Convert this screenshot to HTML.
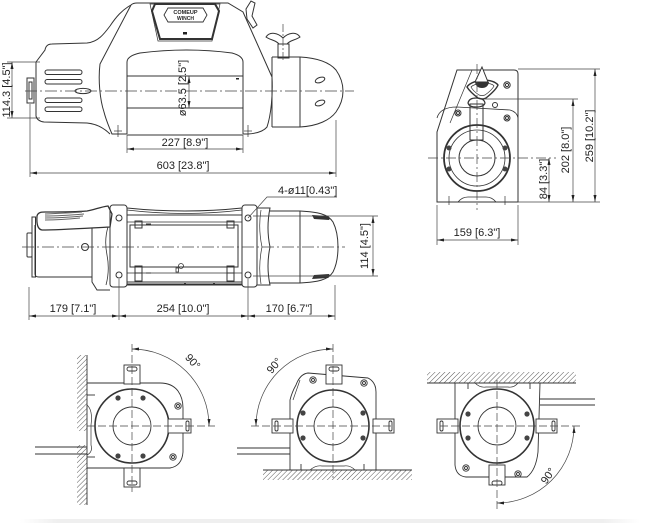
<!DOCTYPE html>
<html><head><meta charset="utf-8">
<style>
html,body{margin:0;padding:0;background:#fff;}
svg{display:block;}
text{font-family:"Liberation Sans",Arial,sans-serif;font-size:11px;fill:#222;}
</style></head><body>
<svg width="660" height="523" viewBox="0 0 660 523" xmlns="http://www.w3.org/2000/svg">
<defs>
<marker id="a" viewBox="0 0 7 3" refX="7" refY="1.5" markerWidth="7" markerHeight="3" markerUnits="userSpaceOnUse" orient="auto-start-reverse"><path d="M0,0 L7,1.5 L0,3 z" fill="#222"/></marker>
<pattern id="h" width="3.5" height="3.5" patternUnits="userSpaceOnUse" patternTransform="rotate(45)"><line x1="0" y1="0" x2="0" y2="3.5" stroke="#444" stroke-width="0.9"/></pattern>
<linearGradient id="g" x1="0" x2="1" y1="0" y2="0"><stop offset="0" stop-color="#fff"/><stop offset="0.06" stop-color="#efefef"/><stop offset="0.94" stop-color="#efefef"/><stop offset="1" stop-color="#fff"/></linearGradient>
</defs>

<!-- ================= TOP VIEW ================= -->
<g fill="none" stroke="#333" stroke-width="1">
  <rect x="27" y="78" width="7" height="25"/>
  <rect x="29" y="82" width="3" height="17"/>
  <path d="M36,62 L45,50 Q46,44 52,44 L87,43 C98,42 104,34 110,26 C116,17 122,10 131,5"/>
  <path d="M36,62 L36,116 Q37,121 44,122 L87,123 C97,124 104,128 110,134"/>
  <path d="M131,5 Q133,3 137,3 L228,3 L243,12 L272,77"/>
  <path d="M131,5 L100,64 C98,80 100,100 104,112 C106,120 109,127 112,134 L127,134"/>
  <path d="M272,77 C273,95 271,115 267,127 Q262,133 248,134 L243,134"/>
  <path d="M150,4 L220,4 L212,41 L158,41 Z" stroke-width="0.7"/>
  <path d="M155,4 L215,4 L219,11 L212,39 L160,39 L152,11 Z" stroke-width="2"/>
  <path d="M168,8 L203,8 L207,15 L203,22 L168,22 L164,15 Z" stroke-width="0.9"/>
  <path d="M127,134 L127,62 Q127,56 140,53 Q187,47 232,53 Q243,56 243,62 L243,134"/>
  <line x1="127" y1="76" x2="243" y2="76"/>
  <line x1="127" y1="108" x2="243" y2="108"/>
  <line x1="127" y1="135" x2="243" y2="135"/>
  <path d="M272,57 L300,57 C318,58 330,63 336,70 Q343,80 343,91 Q343,102 336,112 C330,120 318,126 300,127 L272,127"/>
  <line x1="300" y1="57" x2="300" y2="127"/>
  <line x1="272" y1="57" x2="272" y2="127"/>
  <ellipse cx="320" cy="80" rx="5" ry="2.5" transform="rotate(-20 320 80)"/>
  <ellipse cx="320" cy="103" rx="5" ry="2.5" transform="rotate(-20 320 103)"/>
  <rect x="45" y="70" width="37" height="4.5" rx="2.2"/>
  <rect x="45" y="79.5" width="37" height="4.5" rx="2.2"/>
  <rect x="45" y="98" width="37" height="4.5" rx="2.2"/>
  <rect x="45" y="107" width="37" height="4.5" rx="2.2"/>
  <ellipse cx="83" cy="91" rx="8" ry="2.6"/>
  <path d="M266,37 C270,31 278,33 283,38 C288,33 296,31 300,37 C296,40 290,40 287,44 L279,44 C276,40 270,40 266,37 Z"/>
  <rect x="278" y="44" width="11" height="14"/>
  <path d="M246,9 L251,1 L255,3 L252,16 L257,25 L253,28 L247,19 Z"/>
  <line x1="118" y1="125" x2="118" y2="137" stroke-width="0.7"/>
  <line x1="114" y1="131" x2="122" y2="131" stroke-width="0.7"/>
  <line x1="248" y1="125" x2="248" y2="137" stroke-width="0.7"/>
  <line x1="244" y1="131" x2="252" y2="131" stroke-width="0.7"/>
</g>
<rect x="183" y="32" width="4" height="2.5" fill="#222"/>
<rect x="236" y="78" width="3" height="1.5" fill="#222"/>
<text x="185.5" y="14" text-anchor="middle" style="font-size:5.5px;font-weight:bold">COMEUP</text>
<text x="185.5" y="20" text-anchor="middle" style="font-size:5px;font-weight:bold">WINCH</text>

<g fill="none" stroke="#444" stroke-width="0.7">
  <line x1="25" y1="91" x2="354" y2="91" stroke-dasharray="12 3 2 3"/>
  <line x1="283" y1="24" x2="283" y2="62" stroke-dasharray="8 2 2 2"/>
  <line x1="7" y1="62" x2="40" y2="62"/>
  <line x1="7" y1="118" x2="40" y2="118"/>
  <line x1="12" y1="62" x2="12" y2="118" marker-start="url(#a)" marker-end="url(#a)"/>
  <line x1="189" y1="76" x2="189" y2="108" marker-start="url(#a)" marker-end="url(#a)"/>
  <line x1="127" y1="135" x2="127" y2="153"/>
  <line x1="243" y1="135" x2="243" y2="153"/>
  <line x1="127" y1="149" x2="243" y2="149" marker-start="url(#a)" marker-end="url(#a)"/>
  <line x1="30" y1="104" x2="30" y2="177"/>
  <line x1="336" y1="120" x2="336" y2="177"/>
  <line x1="30" y1="173" x2="336" y2="173" marker-start="url(#a)" marker-end="url(#a)"/>
</g>
<text transform="translate(10,90) rotate(-90)" text-anchor="middle">114.3 [4.5"]</text>
<text transform="translate(186,88) rotate(-90)" text-anchor="middle">ø63.5 [2.5"]</text>
<text x="185" y="146" text-anchor="middle">227 [8.9"]</text>
<text x="183" y="169" text-anchor="middle">603 [23.8"]</text>

<!-- ================= SIDE VIEW ================= -->
<g fill="none" stroke="#333" stroke-width="1">
  <path d="M437,202 L437,132 L457,70 L514,70 Q518,70 518,74 L518,202 Z"/>
  <path d="M472,70 L450,123" stroke-width="0.7"/>
  <path d="M437,118 Q440,107 457,107 L510,110 Q517,112 518,118" stroke-width="0.8"/>
  <path d="M467,87 Q470,82 482,80 Q494,80 498,85 Q496,90 486,98 Q482,100 478,98 Q470,92 467,87 Z" stroke-width="1.4"/>
  <path d="M471,87 Q474,84 482,83 Q492,83 494,86 Q492,90 485,95 Q482,96 479,95 Q473,91 471,87 Z" stroke-width="0.7"/>
  <rect x="470" y="104" width="13" height="36"/>
  <path d="M468,103 Q469,98 476,98 Q484,98 485,103 Q484,107 476,107 Q469,107 468,103 Z" stroke-width="1.2"/>
  <circle cx="507" cy="85" r="3.2"/><circle cx="507" cy="85" r="1.6"/>
  <circle cx="458" cy="113" r="3"/><circle cx="458" cy="113" r="1.5"/>
  <circle cx="507" cy="118" r="3"/><circle cx="507" cy="118" r="1.5"/>
  <circle cx="495" cy="105" r="2.5"/>
  <circle cx="477" cy="158" r="33" stroke-width="1.8"/>
  <circle cx="477" cy="158" r="28" stroke-width="0.8"/>
  <circle cx="477" cy="158" r="18"/>
  <path d="M458,202 Q462,197 468,197 L486,197 Q492,197 496,202" stroke-width="0.8"/>
  <line x1="449" y1="196" x2="449" y2="205" stroke-width="0.7"/>
  <line x1="505" y1="196" x2="505" y2="205" stroke-width="0.7"/>
</g>
<path d="M482,67 L488,82 L475,82 Z" fill="#fff" stroke="#333" stroke-width="1"/>
<path d="M475,82 L489,82 Q488,88 482,88 Q476,88 475,82 Z" fill="#333"/>
<g fill="#444"><circle cx="449" cy="148" r="2.5"/><circle cx="449" cy="169" r="2.5"/><circle cx="505" cy="148" r="2.5"/><circle cx="505" cy="169" r="2.5"/></g>
<g fill="none" stroke="#444" stroke-width="0.7">
  <line x1="428" y1="158" x2="556" y2="158" stroke-dasharray="10 3 2 3"/>
  <line x1="477" y1="64" x2="477" y2="210" stroke-dasharray="10 3 2 3"/>
  <line x1="518" y1="69" x2="600" y2="69"/>
  <line x1="480" y1="99" x2="578" y2="99"/>
  <line x1="518" y1="202" x2="600" y2="202"/>
  <line x1="549" y1="158" x2="549" y2="202" marker-start="url(#a)" marker-end="url(#a)"/>
  <line x1="573" y1="99" x2="573" y2="202" marker-start="url(#a)" marker-end="url(#a)"/>
  <line x1="595" y1="69" x2="595" y2="202" marker-start="url(#a)" marker-end="url(#a)"/>
  <line x1="437" y1="205" x2="437" y2="245"/>
  <line x1="518" y1="205" x2="518" y2="245"/>
  <line x1="437" y1="240" x2="518" y2="240" marker-start="url(#a)" marker-end="url(#a)"/>
</g>
<text transform="translate(547,179) rotate(-90)" text-anchor="middle">84 [3.3"]</text>
<text transform="translate(569,150) rotate(-90)" text-anchor="middle">202 [8.0"]</text>
<text transform="translate(593,136) rotate(-90)" text-anchor="middle">259 [10.2"]</text>
<text x="477" y="236" text-anchor="middle">159 [6.3"]</text>

<!-- ================= FRONT VIEW ================= -->
<g fill="none" stroke="#333" stroke-width="1">
  <rect x="32" y="217" width="3.5" height="60"/>
  <rect x="27" y="233" width="5" height="24" rx="1"/>
  <path d="M35,225 L35,274 Q35,277 39,277 L92,277"/>
  <path d="M92,228 L92,282 L97,290 L110,290"/>
  <path d="M108,227 Q104,240 107,255 Q110,270 106,285" stroke-width="0.8"/>
  <path d="M37,216 C38,212 42,212 45,212 C60,212 75,212 87,211 C94,210 100,207 108,206 L112,214 L110,227 C90,228 60,230 42,230 Q36,229 37,216 Z" fill="#fff" stroke-width="1.3"/>
  <path d="M45,214 C60,213 72,213 82,212 M45,216 C60,216 72,215 84,214 M45,218 C60,218 72,217 83,216 M45,220 C60,220 70,219 80,218" stroke="#666" stroke-width="1"/>
  <circle cx="85" cy="247" r="3.5"/>
  <rect x="110" y="205" width="17" height="82" rx="3"/>
  <rect x="242" y="205" width="15" height="82" rx="3"/>
  <circle cx="119" cy="218" r="3"/><circle cx="119" cy="275" r="3"/>
  <circle cx="248" cy="218" r="3"/><circle cx="248" cy="275" r="3"/>
  <path d="M127,208 Q185,214 242,208"/>
  <path d="M127,210 Q185,217 242,210" stroke-width="0.7"/>
  <line x1="127" y1="215" x2="242" y2="215"/>
  <line x1="127" y1="222" x2="242" y2="222" stroke-width="0.8"/>
  <rect x="130" y="225" width="108" height="42"/>
  <line x1="127" y1="273" x2="242" y2="273" stroke-width="0.8"/>
  <line x1="127" y1="282" x2="242" y2="282"/>
  <line x1="127" y1="284.5" x2="242" y2="284.5" stroke-width="2"/>
  <rect x="135" y="221" width="7" height="7"/><rect x="227" y="221" width="7" height="7"/>
  <rect x="135" y="266" width="7" height="15"/><rect x="227" y="266" width="7" height="15"/>
  <line x1="135" y1="273" x2="142" y2="273"/><line x1="227" y1="273" x2="234" y2="273"/>
  <circle cx="181" cy="266" r="2.5" stroke-width="0.8"/>
  <rect x="176" y="268" width="2.5" height="4" stroke-width="0.8"/>
  <path d="M257,208 L270,208 Q266,228 270,247 Q266,266 270,285 L257,285"/>
  <path d="M261,210 Q258,228 262,247 Q258,266 261,284" stroke-width="0.7"/>
  <path d="M270,211 L300,211 C318,212 328,214 333,222 Q338,232 338,247 Q338,262 333,272 C328,280 318,282 300,283 L270,283"/>
  <line x1="300" y1="211" x2="300" y2="283"/>
</g>
<path d="M312,215 L328,216 Q331,218 329,220 L314,219 Z" fill="#333"/>
<path d="M312,279 L328,278 Q331,276 329,274 L314,275 Z" fill="#333"/>
<g fill="#333"><rect x="146" y="223.5" width="5" height="1"/><rect x="146" y="272.5" width="5" height="1"/><rect x="184" y="283" width="2" height="1.5"/><rect x="213" y="283" width="2" height="1.5"/></g>
<g fill="none" stroke="#444" stroke-width="0.7">
  <line x1="22" y1="247" x2="345" y2="247" stroke-dasharray="12 3 2 3"/>
  <polyline points="248,218 267,197 337,197"/>
  <line x1="253" y1="216" x2="378" y2="216"/>
  <line x1="253" y1="276" x2="378" y2="276"/>
  <line x1="373" y1="216" x2="373" y2="276" marker-start="url(#a)" marker-end="url(#a)"/>
  <line x1="29" y1="287" x2="29" y2="320"/>
  <line x1="119" y1="279" x2="119" y2="320"/>
  <line x1="248" y1="279" x2="248" y2="320"/>
  <line x1="335" y1="285" x2="335" y2="320"/>
  <line x1="29" y1="316" x2="119" y2="316" marker-start="url(#a)" marker-end="url(#a)"/>
  <line x1="119" y1="316" x2="248" y2="316" marker-start="url(#a)" marker-end="url(#a)"/>
  <line x1="248" y1="316" x2="335" y2="316" marker-start="url(#a)" marker-end="url(#a)"/>
</g>
<text x="278" y="194">4-ø11[0.43"]</text>
<text transform="translate(368,246) rotate(-90)" text-anchor="middle">114 [4.5"]</text>
<text x="73" y="312" text-anchor="middle">179 [7.1"]</text>
<text x="183" y="312" text-anchor="middle">254 [10.0"]</text>
<text x="289" y="312" text-anchor="middle">170 [6.7"]</text>

<!-- ================= VIEW A ================= -->
<rect x="77" y="355" width="10" height="76" fill="url(#h)"/>
<rect x="77" y="445" width="10" height="60" fill="url(#h)"/>
<g fill="none" stroke="#333" stroke-width="0.9">
  <line x1="87" y1="355" x2="87" y2="505"/>
  <line x1="35" y1="447" x2="87" y2="447"/>
  <line x1="35" y1="454" x2="87" y2="454"/>
  <path d="M87,383 L160,383 Q172,383 178,391 Q183,398 183,408 L183,452 Q182,466 170,468 L87,468"/>
  <line x1="87" y1="395" x2="95" y2="395"/><line x1="87" y1="457" x2="95" y2="457"/>
  <path d="M87,405 Q93,410 91,425 L91,445 Q93,452 87,455" stroke-width="0.7"/>
  <circle cx="132" cy="426" r="37" stroke-width="1.6"/>
  <circle cx="132" cy="426" r="19"/>
  <rect x="124" y="365" width="16" height="19" fill="#fff"/><rect x="127" y="367" width="10" height="4" rx="2"/>
  <rect x="124" y="468" width="16" height="19" fill="#fff"/><rect x="127" y="481" width="10" height="4" rx="2"/>
  <rect x="168" y="419" width="23" height="14" fill="#fff"/><rect x="186" y="421" width="3" height="10" rx="1.5"/>
  <circle cx="178" cy="406" r="3.2"/><circle cx="178" cy="406" r="1.5"/>
  <circle cx="173" cy="457" r="3.2"/><circle cx="173" cy="457" r="1.5"/>
</g>
<g fill="#444"><circle cx="118" cy="398" r="2.6"/><circle cx="143" cy="398" r="2.6"/><circle cx="118" cy="456" r="2.6"/><circle cx="143" cy="456" r="2.6"/></g>
<g fill="none" stroke="#444" stroke-width="0.7">
  <line x1="132" y1="344" x2="132" y2="492" stroke-dasharray="8 3"/>
  <line x1="87" y1="426" x2="215" y2="426" stroke-dasharray="8 3"/>
  <path d="M132,349 A77,77 0 0 1 209,426" marker-start="url(#a)" marker-end="url(#a)"/>
</g>
<text transform="translate(190,364) rotate(48)" text-anchor="middle">90°</text>

<!-- ================= VIEW B ================= -->
<rect x="263" y="470" width="149" height="10" fill="url(#h)"/>
<g fill="none" stroke="#333" stroke-width="0.9">
  <line x1="263" y1="470" x2="412" y2="470"/>
  <line x1="237" y1="448" x2="290" y2="448"/>
  <line x1="237" y1="454" x2="290" y2="454"/>
  <path d="M290,470 L290,400 Q292,392 296,385 Q300,374 308,373 L368,378 Q376,382 376,392 L376,470"/>
  <path d="M300,380 L293,400" stroke-width="0.7"/>
  <path d="M310,470 Q316,465 322,466 L344,466 Q350,465 355,470" stroke-width="0.7"/>
  <line x1="301" y1="464" x2="301" y2="470"/><line x1="364" y1="464" x2="364" y2="470"/>
  <circle cx="333" cy="426" r="36" stroke-width="1.6"/>
  <circle cx="333" cy="426" r="19"/>
  <rect x="326" y="365" width="16" height="19" fill="#fff"/><rect x="329" y="367" width="10" height="4" rx="2"/>
  <rect x="272" y="419" width="21" height="14" fill="#fff"/><rect x="275" y="421" width="3" height="10" rx="1.5"/>
  <rect x="373" y="419" width="21" height="14" fill="#fff"/><rect x="389" y="421" width="3" height="10" rx="1.5"/>
  <circle cx="313" cy="380" r="3.2"/><circle cx="313" cy="380" r="1.5"/>
  <circle cx="364" cy="383" r="3.2"/><circle cx="364" cy="383" r="1.5"/>
</g>
<g fill="#444"><circle cx="303" cy="413" r="2.6"/><circle cx="363" cy="413" r="2.6"/><circle cx="303" cy="438" r="2.6"/><circle cx="363" cy="438" r="2.6"/></g>
<g fill="none" stroke="#444" stroke-width="0.7">
  <line x1="333" y1="344" x2="333" y2="478" stroke-dasharray="8 3"/>
  <line x1="251" y1="426" x2="393" y2="426" stroke-dasharray="8 3"/>
  <path d="M333,349 A77,77 0 0 0 256,426" marker-start="url(#a)" marker-end="url(#a)"/>
</g>
<text transform="translate(277,368) rotate(-50)" text-anchor="middle">90°</text>

<!-- ================= VIEW C ================= -->
<rect x="427" y="372" width="149" height="11" fill="url(#h)"/>
<g fill="none" stroke="#333" stroke-width="0.9">
  <line x1="427" y1="383" x2="576" y2="383"/>
  <line x1="540" y1="399" x2="595" y2="399"/>
  <line x1="540" y1="405" x2="595" y2="405"/>
  <path d="M455,383 L455,465 Q456,476 466,477 L527,477 Q536,470 538,452 L540,383"/>
  <path d="M475,383 Q480,388 486,387 L508,387 Q514,388 518,383" stroke-width="0.7"/>
  <line x1="468" y1="383" x2="468" y2="389"/><line x1="530" y1="383" x2="530" y2="389"/>
  <circle cx="497" cy="426" r="37" stroke-width="1.6"/>
  <circle cx="497" cy="426" r="19"/>
  <rect x="437" y="419" width="21" height="14" fill="#fff"/><rect x="440" y="421" width="3" height="10" rx="1.5"/>
  <rect x="536" y="419" width="21" height="14" fill="#fff"/><rect x="552" y="421" width="3" height="10" rx="1.5"/>
  <rect x="489" y="465" width="16" height="20" fill="#fff"/><rect x="492" y="481" width="10" height="4" rx="2"/>
  <circle cx="466" cy="468" r="3.2"/><circle cx="466" cy="468" r="1.5"/>
  <circle cx="518" cy="474" r="3.2"/><circle cx="518" cy="474" r="1.5"/>
</g>
<g fill="#444"><circle cx="468" cy="414" r="2.6"/><circle cx="527" cy="414" r="2.6"/><circle cx="468" cy="438" r="2.6"/><circle cx="527" cy="438" r="2.6"/></g>
<g fill="none" stroke="#444" stroke-width="0.7">
  <line x1="497" y1="380" x2="497" y2="510" stroke-dasharray="8 3"/>
  <line x1="440" y1="426" x2="581" y2="426" stroke-dasharray="8 3"/>
  <path d="M574,426 A77,77 0 0 1 497,503" marker-start="url(#a)" marker-end="url(#a)"/>
</g>
<text transform="translate(551,478) rotate(-55)" text-anchor="middle">90°</text>

<rect x="20" y="519" width="620" height="4" fill="url(#g)"/>
</svg>
</body></html>
